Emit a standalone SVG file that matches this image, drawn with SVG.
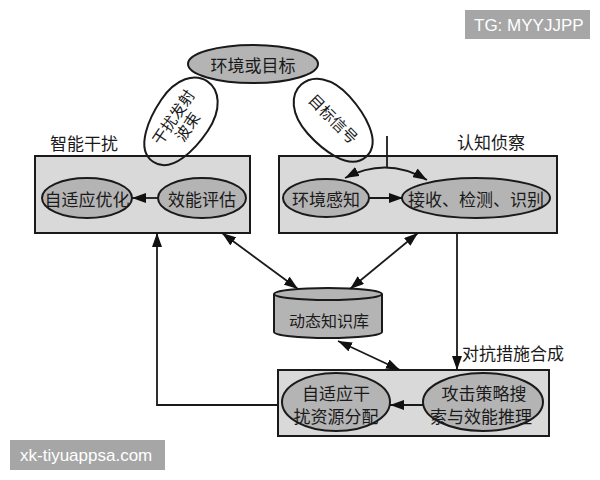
<svg xmlns="http://www.w3.org/2000/svg" width="600" height="480" viewBox="0 0 600 480">
<defs>
<marker id="ah" viewBox="0 0 14 10" refX="14" refY="5" markerWidth="14" markerHeight="10" markerUnits="userSpaceOnUse" orient="auto-start-reverse">
<path d="M0,0 L14,5 L0,10 z" fill="#111"/>
</marker>
<path id="egg" d="M -48,0 C -48,-23 -12,-28 8,-28 C 34,-28 49,-15 49,0 C 49,15 34,28 8,28 C -12,28 -48,23 -48,0 Z"/>
<style>
.box{fill:#d9d9d9;stroke:#1a1a1a;stroke-width:2}
.el{fill:#b4b4b4;stroke:#1a1a1a;stroke-width:2}
.blob{fill:none;stroke:#1a1a1a;stroke-width:2}
.t{font-family:"Noto Sans CJK SC","Noto Sans",sans-serif;font-size:17px;fill:#1a1a1a;text-anchor:middle;dominant-baseline:central}
.bt{font-size:15.5px}
.lbl{font-family:"Noto Sans CJK SC","Noto Sans",sans-serif;font-size:17px;fill:#1a1a1a;dominant-baseline:central}
.ln{fill:none;stroke:#1a1a1a;stroke-width:1.8}
.wm{fill:#a6a6a6}
.wt{font-family:"Liberation Sans",Arial,sans-serif;font-size:17px;fill:#fff;dominant-baseline:central}
</style>
</defs>
<rect width="600" height="480" fill="#fff"/>

<g id="box-jam">
<rect class="box" x="35" y="156" width="215" height="77"/>
<text class="lbl" x="50" y="142">智能干扰</text>
</g>
<g id="box-recon">
<rect class="box" x="279" y="156" width="278" height="77"/>
<text class="lbl" x="457" y="141">认知侦察</text>
</g>
<g id="box-bottom">
<rect class="box" x="278" y="370" width="271" height="66"/>
</g>

<g id="n-env">
<ellipse class="el" cx="253" cy="64" rx="65" ry="19"/>
<text class="t" x="253" y="64">环境或目标</text>
</g>
<g id="n-beam">
<use href="#egg" class="blob" transform="translate(180,122) rotate(-56)"/>
<g transform="translate(179,121) rotate(-56)">
<text class="t bt" x="0" y="-8">干扰发射</text>
<text class="t bt" x="0" y="9">波束</text>
</g>
</g>
<g id="n-signal">
<use href="#egg" class="blob" transform="translate(334,121) rotate(228)"/>
<text class="t bt" transform="translate(334,118) rotate(45)" x="0" y="0">目标信号</text>
</g>
<g id="n-adapt">
<ellipse class="el" cx="87" cy="198" rx="45" ry="20"/>
<text class="t" x="87" y="198">自适应优化</text>
</g>
<g id="n-eval">
<ellipse class="el" cx="202" cy="198" rx="44" ry="20"/>
<text class="t" x="202" y="198">效能评估</text>
</g>
<g id="n-sense">
<ellipse class="el" cx="326" cy="198" rx="43" ry="19"/>
<text class="t" x="326" y="198">环境感知</text>
</g>
<g id="n-detect">
<ellipse class="el" cx="476" cy="198" rx="74" ry="20"/>
<text class="t" x="476" y="198">接收、检测、识别</text>
</g>
<g id="n-kb">
<path class="el" d="M274,294 L274,332 A54,6 0 0 0 382,332 L382,294"/>
<ellipse class="el" cx="328" cy="294" rx="54" ry="6"/>
<text class="t" x="329" y="320" style="font-size:16px">动态知识库</text>
</g>
<g id="n-alloc">
<ellipse class="el" cx="336" cy="402" rx="54" ry="29"/>
<text class="t" x="336" y="392">自适应干</text>
<text class="t" x="336" y="415">扰资源分配</text>
</g>
<g id="n-search">
<ellipse class="el" cx="483" cy="402" rx="60" ry="29"/>
<text class="t" x="484" y="392">攻击策略搜</text>
<text class="t" x="481" y="415">索与效能推理</text>
</g>

<g id="connectors">
<line class="ln" x1="158" y1="198" x2="132" y2="198" marker-end="url(#ah)"/>
<line class="ln" x1="369" y1="198" x2="403" y2="198" marker-end="url(#ah)"/>
<line class="ln" x1="387" y1="136" x2="387" y2="167"/>
<path class="ln" d="M345,178 Q387,156 427,180" marker-start="url(#ah)" marker-end="url(#ah)"/>
<line class="ln" x1="222" y1="233" x2="298" y2="289" marker-start="url(#ah)" marker-end="url(#ah)"/>
<line class="ln" x1="418" y1="233" x2="350" y2="289" marker-start="url(#ah)" marker-end="url(#ah)"/>
<line class="ln" x1="338" y1="341" x2="400" y2="370" marker-start="url(#ah)" marker-end="url(#ah)"/>
<line class="ln" x1="457" y1="233" x2="457" y2="370" marker-end="url(#ah)"/>
<text class="lbl" x="462" y="352">对抗措施合成</text>
<polyline class="ln" points="278,405 157,405 157,233" marker-end="url(#ah)"/>
<line class="ln" x1="423" y1="405" x2="390" y2="405" marker-end="url(#ah)"/>
</g>

<g id="watermarks">
<rect class="wm" x="465" y="10" width="125" height="29"/>
<text class="wt" x="474" y="25">TG: MYYJJPP</text>
<rect class="wm" x="10" y="440" width="155" height="30"/>
<text class="wt" x="20" y="455">xk-tiyuappsa.com</text>
</g>
</svg>
